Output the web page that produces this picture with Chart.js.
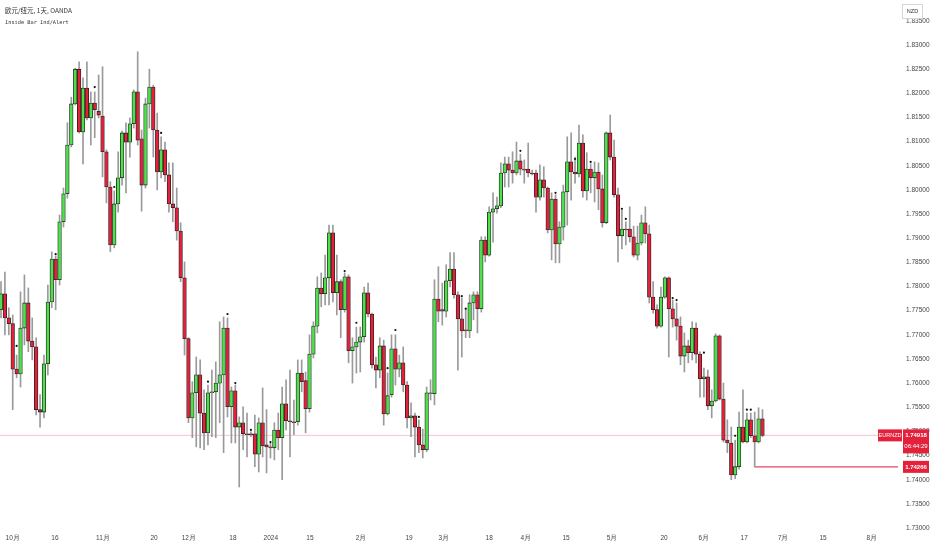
<!DOCTYPE html>
<html>
<head>
<meta charset="utf-8">
<script src="https://cdn.jsdelivr.net/npm/chart.js@4.4.1/dist/chart.umd.min.js"></script>
<style>
  html, body { margin: 0; padding: 0; background: #fff; }
  #wrap { position: relative; width: 932px; height: 550px; }
</style>
</head>
<body>
<div id="wrap"><canvas id="chart"></canvas></div>
<script>
// daily EUR/NZD bars, late Sep 2023 -> late Jun 2024
var openPrices = [
  1.7752, 1.7785, 1.7735, 1.7723, 1.7629, 1.7619, 1.7714, 1.7766, 1.7687, 1.7675,
  1.7545, 1.7540, 1.7640, 1.7768, 1.7857, 1.7814, 1.7934, 1.7992, 1.8093, 1.8178,
  1.8250, 1.8120, 1.8211, 1.8149, 1.8180, 1.8163, 1.8153, 1.8079, 1.8006, 1.7886,
  1.7971, 1.8025, 1.8118, 1.8099, 1.8137, 1.8203, 1.8106, 1.8010, 1.8178, 1.8213,
  1.8124, 1.8037, 1.8083, 1.8031, 1.7971, 1.7963, 1.7915, 1.7818, 1.7692, 1.7528,
  1.7580, 1.7617, 1.7538, 1.7497, 1.7580, 1.7582, 1.7600, 1.7617, 1.7714, 1.7551,
  1.7584, 1.7509, 1.7518, 1.7495, 1.7495, 1.7495, 1.7453, 1.7518, 1.7472, 1.7468,
  1.7466, 1.7503, 1.7487, 1.7557, 1.7522, 1.7520, 1.7520, 1.7621, 1.7605, 1.7547,
  1.7660, 1.7718, 1.7797, 1.7785, 1.7818, 1.7911, 1.7787, 1.7810, 1.7752, 1.7820,
  1.7667, 1.7675, 1.7685, 1.7696, 1.7787, 1.7743, 1.7638, 1.7627, 1.7677, 1.7536,
  1.7576, 1.7671, 1.7629, 1.7642, 1.7596, 1.7528, 1.7532, 1.7509, 1.7472, 1.7462,
  1.7578, 1.7578, 1.7774, 1.7752, 1.7749, 1.7812, 1.7836, 1.7783, 1.7733, 1.7710,
  1.7708, 1.7766, 1.7783, 1.7754, 1.7896, 1.7865, 1.7954, 1.7961, 1.7967, 1.8035,
  1.8054, 1.8041, 1.8035, 1.8060, 1.8043, 1.8043, 1.8035, 1.8035, 1.7985, 1.8021,
  1.8004, 1.7917, 1.7981, 1.7888, 1.7923, 1.7996, 1.8058, 1.8037, 1.8033, 1.8097,
  1.7998, 1.8043, 1.8025, 1.8037, 1.8002, 1.7932, 1.8118, 1.8068, 1.7990, 1.7905,
  1.7919, 1.7919, 1.7903, 1.7865, 1.7890, 1.7932, 1.7909, 1.7778, 1.7752, 1.7718,
  1.7778, 1.7818, 1.7754, 1.7733, 1.7718, 1.7656, 1.7677, 1.7663, 1.7714, 1.7660,
  1.7609, 1.7613, 1.7553, 1.7563, 1.7698, 1.7567, 1.7482, 1.7476, 1.7410, 1.7427,
  1.7509, 1.7478, 1.7524, 1.7491, 1.7478, 1.7526
];
var highPrices = [
  1.7810, 1.7830, 1.7756, 1.7741, 1.7658, 1.7789, 1.7824, 1.7797, 1.7735, 1.7694,
  1.7576, 1.7658, 1.7803, 1.7872, 1.7863, 1.7948, 1.8004, 1.8139, 1.8192, 1.8252,
  1.8265, 1.8232, 1.8265, 1.8203, 1.8203, 1.8238, 1.8255, 1.8083, 1.8017, 1.7998,
  1.8079, 1.8122, 1.8139, 1.8149, 1.8207, 1.8286, 1.8124, 1.8190, 1.8250, 1.8217,
  1.8159, 1.8110, 1.8099, 1.8056, 1.8056, 1.8004, 1.7932, 1.7851, 1.7694, 1.7603,
  1.7654, 1.7648, 1.7586, 1.7596, 1.7627, 1.7644, 1.7727, 1.7737, 1.7735, 1.7592,
  1.7596, 1.7530, 1.7551, 1.7538, 1.7499, 1.7534, 1.7528, 1.7590, 1.7545, 1.7476,
  1.7518, 1.7538, 1.7592, 1.7607, 1.7627, 1.7565, 1.7648, 1.7648, 1.7623, 1.7700,
  1.7727, 1.7820, 1.7828, 1.7865, 1.7927, 1.7927, 1.7865, 1.7814, 1.7828, 1.7824,
  1.7694, 1.7716, 1.7716, 1.7799, 1.7807, 1.7745, 1.7654, 1.7694, 1.7689, 1.7621,
  1.7700, 1.7700, 1.7658, 1.7675, 1.7603, 1.7559, 1.7538, 1.7524, 1.7505, 1.7592,
  1.7607, 1.7814, 1.7841, 1.7807, 1.7845, 1.7870, 1.7870, 1.7789, 1.7776, 1.7756,
  1.7783, 1.7789, 1.7789, 1.7903, 1.7903, 1.7965, 1.7994, 1.7985, 1.8056, 1.8068,
  1.8068, 1.8079, 1.8099, 1.8074, 1.8062, 1.8097, 1.8041, 1.8041, 1.8052, 1.8048,
  1.8006, 1.7994, 1.7990, 1.7934, 1.8010, 1.8110, 1.8118, 1.8068, 1.8134, 1.8114,
  1.8077, 1.8054, 1.8058, 1.8056, 1.8031, 1.8120, 1.8155, 1.8103, 1.8004, 1.7959,
  1.7934, 1.7965, 1.7925, 1.7925, 1.7948, 1.7965, 1.7927, 1.7810, 1.7762, 1.7799,
  1.7820, 1.7820, 1.7772, 1.7766, 1.7737, 1.7704, 1.7689, 1.7727, 1.7725, 1.7665,
  1.7631, 1.7627, 1.7586, 1.7702, 1.7700, 1.7600, 1.7524, 1.7509, 1.7482, 1.7540,
  1.7586, 1.7538, 1.7538, 1.7540, 1.7549, 1.7545
];
var lowPrices = [
  1.7735, 1.7700, 1.7700, 1.7545, 1.7611, 1.7592, 1.7679, 1.7665, 1.7648, 1.7534,
  1.7509, 1.7528, 1.7617, 1.7756, 1.7752, 1.7803, 1.7923, 1.7983, 1.8089, 1.8176,
  1.8118, 1.8054, 1.8145, 1.8093, 1.8108, 1.8149, 1.8027, 1.7973, 1.7872, 1.7880,
  1.7954, 1.8010, 1.7994, 1.8068, 1.8128, 1.8093, 1.7956, 1.8004, 1.8128, 1.8068,
  1.8000, 1.8025, 1.8017, 1.7954, 1.7934, 1.7896, 1.7810, 1.7658, 1.7518, 1.7487,
  1.7468, 1.7466, 1.7462, 1.7472, 1.7489, 1.7487, 1.7518, 1.7456, 1.7530, 1.7476,
  1.7476, 1.7385, 1.7462, 1.7447, 1.7489, 1.7427, 1.7416, 1.7447, 1.7414, 1.7445,
  1.7441, 1.7462, 1.7400, 1.7503, 1.7447, 1.7493, 1.7513, 1.7582, 1.7497, 1.7540,
  1.7652, 1.7704, 1.7758, 1.7762, 1.7762, 1.7768, 1.7741, 1.7694, 1.7747, 1.7642,
  1.7600, 1.7621, 1.7623, 1.7685, 1.7737, 1.7631, 1.7590, 1.7611, 1.7513, 1.7534,
  1.7571, 1.7596, 1.7613, 1.7582, 1.7507, 1.7489, 1.7447, 1.7456, 1.7445, 1.7458,
  1.7565, 1.7555, 1.7727, 1.7720, 1.7737, 1.7799, 1.7776, 1.7627, 1.7654, 1.7694,
  1.7694, 1.7731, 1.7704, 1.7747, 1.7851, 1.7863, 1.7892, 1.7952, 1.7963, 1.8006,
  1.8006, 1.8014, 1.8031, 1.8031, 1.8014, 1.8027, 1.8031, 1.7954, 1.7979, 1.7985,
  1.7911, 1.7855, 1.7849, 1.7849, 1.7896, 1.7927, 1.7979, 1.8014, 1.8027, 1.7985,
  1.7979, 1.7994, 1.7975, 1.7959, 1.7923, 1.7930, 1.8062, 1.7985, 1.7851, 1.7878,
  1.7886, 1.7892, 1.7861, 1.7855, 1.7886, 1.7890, 1.7766, 1.7745, 1.7714, 1.7716,
  1.7776, 1.7654, 1.7716, 1.7689, 1.7638, 1.7623, 1.7642, 1.7648, 1.7642, 1.7571,
  1.7571, 1.7545, 1.7528, 1.7561, 1.7565, 1.7478, 1.7456, 1.7400, 1.7402, 1.7422,
  1.7476, 1.7476, 1.7487, 1.74266, 1.7476, 1.7489
];
var closePrices = [
  1.7785, 1.7735, 1.7723, 1.7629, 1.7619, 1.7714, 1.7766, 1.7687, 1.7675, 1.7545,
  1.7540, 1.7640, 1.7768, 1.7857, 1.7814, 1.7934, 1.7992, 1.8093, 1.8178, 1.8250,
  1.8120, 1.8211, 1.8149, 1.8180, 1.8166, 1.8155, 1.8079, 1.8006, 1.7886, 1.7971,
  1.8025, 1.8118, 1.8099, 1.8137, 1.8203, 1.8103, 1.8010, 1.8178, 1.8213, 1.8124,
  1.8037, 1.8083, 1.8031, 1.7971, 1.7963, 1.7915, 1.7818, 1.7692, 1.7528, 1.7580,
  1.7617, 1.7538, 1.7497, 1.7580, 1.7582, 1.7600, 1.7617, 1.7714, 1.7551, 1.7584,
  1.7509, 1.7518, 1.7495, 1.7493, 1.7493, 1.7453, 1.7518, 1.7470, 1.7468, 1.7466,
  1.7503, 1.7487, 1.7557, 1.7522, 1.7520, 1.7518, 1.7621, 1.7603, 1.7547, 1.7660,
  1.7718, 1.7797, 1.7785, 1.7818, 1.7911, 1.7787, 1.7810, 1.7752, 1.7820, 1.7667,
  1.7675, 1.7685, 1.7696, 1.7787, 1.7743, 1.7638, 1.7627, 1.7677, 1.7536, 1.7574,
  1.7671, 1.7629, 1.7642, 1.7596, 1.7528, 1.7532, 1.7509, 1.7472, 1.7462, 1.7580,
  1.7580, 1.7774, 1.7749, 1.7749, 1.7812, 1.7836, 1.7783, 1.7733, 1.7708, 1.7708,
  1.7766, 1.7783, 1.7754, 1.7896, 1.7865, 1.7954, 1.7961, 1.7967, 1.8035, 1.8054,
  1.8041, 1.8035, 1.8060, 1.8043, 1.8041, 1.8035, 1.8033, 1.7985, 1.8021, 1.8004,
  1.7917, 1.7981, 1.7888, 1.7923, 1.7996, 1.8058, 1.8037, 1.8033, 1.8097, 1.7998,
  1.8043, 1.8025, 1.8037, 1.8002, 1.7932, 1.8118, 1.8068, 1.7990, 1.7905, 1.7919,
  1.7917, 1.7903, 1.7865, 1.7890, 1.7932, 1.7909, 1.7778, 1.7752, 1.7718, 1.7778,
  1.7818, 1.7754, 1.7733, 1.7718, 1.7656, 1.7677, 1.7663, 1.7714, 1.7660, 1.7609,
  1.7613, 1.7553, 1.7563, 1.7698, 1.7567, 1.7482, 1.7476, 1.7410, 1.7427, 1.7509,
  1.7478, 1.7524, 1.7491, 1.7478, 1.7526, 1.74918
];

// inside bar markers (bar index, price of the dot)
var dotBars = [4, 14, 24, 29, 41, 53, 58, 60, 64, 69, 88, 91, 99, 101, 107, 118, 119,
  133, 142, 147, 151, 159, 160, 172, 173, 180, 188, 191, 192];
var dotPrices = [1.7677, 1.7867, 1.8213, 1.8006, 1.8118, 1.7603, 1.7743, 1.7600, 1.7503,
  1.7478, 1.7832, 1.7725, 1.7631, 1.7710, 1.7530, 1.7780, 1.7754, 1.8081, 1.7994,
  1.8064, 1.8058, 1.7961, 1.7940, 1.7776, 1.7772, 1.7663, 1.7491, 1.7545, 1.7545];

// time axis ticks, in bar units
var xTickPos = [3, 13.8, 26.1, 39.2, 48.1, 59.4, 69.1, 79.1, 92.2, 104.5, 113.4,
  125, 134.4, 144.7, 156.5, 169.8, 180, 190.3, 200.3, 210.5, 223];
var xTickLabels = ['10月', '16', '11月', '20', '12月', '18', '2024', '15', '2月', '19', '3月',
  '18', '4月', '15', '5月', '20', '6月', '17', '7月', '15', '8月'];

var lastPrice = 1.74918;
var lastTime = '06:44:29';
var lowMarkPrice = 1.74266;
var lowMarkBar = 193;

var xMin = -0.256, xMax = 229.7;
var yMin = 1.72938, yMax = 1.83932, yStep = 0.005;

var GREEN = '#4ee04a', RED = '#e3213b';

var wicks = [], bodies = [], bodyColors = [];
for (var i = 0; i < openPrices.length; i++) {
  wicks.push({ x: i, y: [lowPrices[i], highPrices[i]] });
  bodies.push({ x: i, y: [openPrices[i], closePrices[i]] });
  bodyColors.push(closePrices[i] >= openPrices[i] ? GREEN : RED);
}
var dots = dotBars.map(function(b, k) { return { x: b, y: dotPrices[k] }; });

var overlay = {
  id: 'overlay',
  afterDraw: function(chart) {
    var ctx = chart.ctx;
    var ys = chart.scales.y;
    var right = chart.chartArea.right;
    ctx.save();

    // title lines
    ctx.fillStyle = '#333';
    ctx.textBaseline = 'middle';
    ctx.textAlign = 'left';
    ctx.font = '6.5px "Noto Sans CJK SC"';
    ctx.fillText('欧元/纽元, 1天, OANDA', 5, 11);
    ctx.font = '5.3px "DejaVu Sans Mono"';
    ctx.fillText('Inside Bar Ind/Alert', 5, 23);

    // currency box
    ctx.fillStyle = '#fff';
    ctx.strokeStyle = '#d6d6d6';
    ctx.lineWidth = 1;
    ctx.fillRect(right + 4, 4, 21, 15);
    ctx.strokeRect(right + 4.5, 4.5, 20, 14);
    ctx.fillStyle = '#333';
    ctx.textAlign = 'center';
    ctx.font = '5.5px "Liberation Sans Narrow", "Liberation Sans"';
    ctx.fillText('NZD', right + 14.5, 11.5);

    // last price labels
    var py = ys.getPixelForValue(lastPrice);
    ctx.fillStyle = RED;
    ctx.fillRect(right - 20, py - 6, 24, 12);
    ctx.fillRect(right + 5, py - 6, 26, 24);
    ctx.fillStyle = '#fff';
    ctx.font = '5.5px "Liberation Sans Narrow", "Liberation Sans"';
    ctx.fillText('EURNZD', right - 8, py);
    ctx.font = 'bold 6px "Liberation Sans Narrow", "Liberation Sans"';
    ctx.fillText(lastPrice.toFixed(5), right + 18, py);
    ctx.font = '6px "Liberation Sans Narrow", "Liberation Sans"';
    ctx.fillText(lastTime, right + 18, py + 11);

    var my = ys.getPixelForValue(lowMarkPrice);
    ctx.fillStyle = RED;
    ctx.fillRect(right + 5, my - 6, 26, 12);
    ctx.fillStyle = '#fff';
    ctx.font = 'bold 6px "Liberation Sans Narrow", "Liberation Sans"';
    ctx.fillText(lowMarkPrice.toFixed(5), right + 18, my);
    ctx.restore();
  }
};

var axisFont = { family: '"Liberation Sans Narrow", "Liberation Sans", sans-serif', size: 6.5 };

new Chart(document.getElementById('chart'), {
  type: 'bar',
  data: {
    datasets: [
      {
        type: 'line',
        data: [{ x: xMin, y: lastPrice }, { x: xMax, y: lastPrice }],
        borderColor: '#f7c3cc',
        borderWidth: 1,
        pointRadius: 0,
        order: 6
      },
      {
        type: 'line',
        data: [{ x: lowMarkBar, y: lowMarkPrice }, { x: xMax, y: lowMarkPrice }],
        borderColor: '#e8455c',
        borderWidth: 1.2,
        pointRadius: 0,
        order: 5
      },
      {
        data: wicks,
        backgroundColor: '#9a9a9a',
        barThickness: 1,
        grouped: false,
        order: 4
      },
      {
        data: bodies,
        backgroundColor: bodyColors,
        borderColor: '#222',
        borderWidth: 0.8,
        borderSkipped: false,
        barThickness: 3.6,
        minBarLength: 1,
        grouped: false,
        order: 3
      },
      {
        type: 'line',
        data: dots,
        showLine: false,
        pointRadius: 1.1,
        pointBorderWidth: 0,
        pointBackgroundColor: '#111',
        order: 1
      }
    ]
  },
  options: {
    responsive: true,
    maintainAspectRatio: false,
    animation: false,
    events: [],
    layout: { padding: 0, autoPadding: false },
    plugins: { legend: { display: false }, tooltip: { enabled: false } },
    scales: {
      x: {
        type: 'linear',
        min: xMin,
        max: xMax,
        offset: false,
        grid: { display: false, drawTicks: false },
        border: { display: false },
        afterBuildTicks: function(scale) {
          scale.ticks = xTickPos.map(function(v) { return { value: v }; });
        },
        afterFit: function(scale) {
          scale.height = 19;
          scale.paddingLeft = 0;
          scale.paddingRight = 0;
        },
        ticks: {
          autoSkip: false,
          maxRotation: 0,
          padding: 3,
          color: '#444',
          font: axisFont,
          callback: function(v, idx) { return xTickLabels[idx]; }
        }
      },
      y: {
        type: 'linear',
        position: 'right',
        min: yMin,
        max: yMax,
        grid: { display: false, drawTicks: false },
        border: { display: false },
        afterFit: function(scale) {
          scale.width = 34;
          scale.paddingTop = 0;
          scale.paddingBottom = 0;
        },
        ticks: {
          stepSize: yStep,
          includeBounds: false,
          maxTicksLimit: 100,
          autoSkip: false,
          padding: 8,
          color: '#444',
          font: axisFont,
          callback: function(v) { return v.toFixed(5); }
        }
      }
    }
  },
  plugins: [overlay]
});
</script>
</body>
</html>
